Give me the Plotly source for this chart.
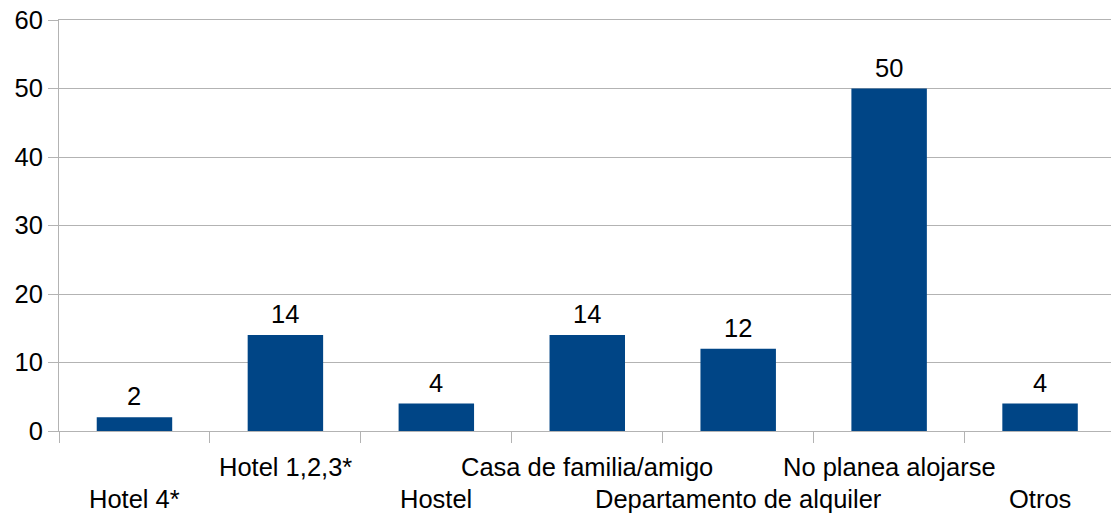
import plotly.graph_objects as go

categories = ["Hotel 4*", "Hotel 1,2,3*", "Hostel", "Casa de familia/amigo",
              "Departamento de alquiler", "No planea alojarse", "Otros"]
values = [2, 14, 4, 14, 12, 50, 4]
y_ticks = [0, 10, 20, 30, 40, 50, 60]

bar_color = "#004586"
grid_color = "#b3b3b3"
font_family = "Liberation Sans, Arial, sans-serif"
font_size = 25.5

fig = go.Figure(go.Bar(
    x=categories,
    y=values,
    width=0.5,
    marker=dict(color=bar_color, line=dict(width=0)),
))

# value labels above the bars
for cat, val in zip(categories, values):
    fig.add_annotation(x=cat, y=val, xref="x", yref="y", text=str(val),
                       showarrow=False, yanchor="bottom", yshift=5,
                       font=dict(family=font_family, size=font_size, color="black"))

# staggered category labels (LibreOffice style)
for i, cat in enumerate(categories):
    fig.add_annotation(x=cat, y=0, xref="x", yref="paper", text=cat,
                       showarrow=False, yanchor="middle",
                       yshift=-68 if i % 2 == 0 else -36,
                       font=dict(family=font_family, size=font_size, color="black"))

# mirrored x line stands in for the top gridline, which plotly skips at the edge
fig.update_xaxes(
    type="category",
    range=[-0.5, 6.47],
    showticklabels=False,
    ticks="outside", tickson="boundaries", ticklen=11, tickcolor=grid_color,
    showline=True, mirror=True, linecolor=grid_color, linewidth=1,
    showgrid=False, zeroline=False,
)
fig.update_yaxes(
    range=[0, 60], tickvals=y_ticks,
    ticks="outside", ticklen=10, tickcolor=grid_color,
    showline=True, linecolor=grid_color, linewidth=1,
    showgrid=True, gridcolor=grid_color, gridwidth=1,
    zeroline=True, zerolinecolor=grid_color, zerolinewidth=1,
    tickfont=dict(family=font_family, size=font_size, color="black"),
)
fig.update_layout(
    width=1111, height=516,
    margin=dict(l=59, r=0, t=20, b=85),
    plot_bgcolor="white", paper_bgcolor="white",
    showlegend=False,
)
# drop the default 8px body margin so the figure fills the window
fig.write_html("out.html", config={"displayModeBar": False},
               post_script="document.body.style.margin = '0';")
